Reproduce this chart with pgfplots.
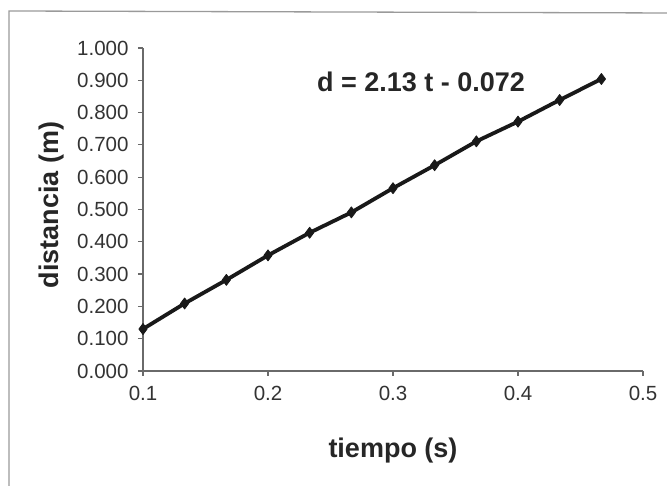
\documentclass[border=0pt]{standalone}
\usepackage{fontspec}
\setmainfont{Liberation Sans}
\usepackage{pgfplots}
\pgfplotsset{compat=1.18}
\definecolor{framegray}{HTML}{9A9A9A}
\definecolor{axgray}{HTML}{6A6A6A}
\definecolor{txtgray}{HTML}{333333}
\begin{document}
\begin{tikzpicture}
\useasboundingbox (0,0) rectangle (667pt,486pt);
% chart frame (runs off the right and bottom of the picture)
\draw[framegray, line width=1.3pt] (9pt,-5pt) -- (9pt,475pt) -- (672pt,473pt);
\begin{axis}[
    at={(143pt,115pt)}, anchor=south west,
    scale only axis,
    width=500pt, height=323pt,
    xmin=0.1, xmax=0.5,
    ymin=0, ymax=1,
    xtick={0.1,0.2,0.3,0.4,0.5},
    ytick={0,0.1,...,1.0},
    axis x line*=bottom,
    axis y line*=left,
    axis line style={axgray, line width=1.2pt},
    tick style={axgray, line width=1.2pt},
    tick align=outside,
    major tick length=5pt,
    /pgf/number format/assume math mode=true,
    ticklabel style={font=\fontsize{20.5}{24}\selectfont, text=txtgray},
    yticklabel style={xshift=-6pt, /pgf/number format/.cd, fixed, fixed zerofill, precision=3},
    xticklabel style={yshift=-7pt, /pgf/number format/.cd, fixed, fixed zerofill, precision=1},
    label style={font=\bfseries\fontsize{27}{32}\selectfont, text=black!85},
    xlabel={tiempo (s)},
    ylabel={distancia (m)},
    xlabel style={at={(axis description cs:0.5,-0.245)}, anchor=center},
    ylabel style={at={(axis description cs:-0.182,0.514)}, anchor=center},
    clip=false,
]
% measured points
\addplot[black!90, line width=3.8pt, line join=round, mark=diamond*, mark size=5.5pt,
    mark options={solid, fill=black!90, line width=0.8pt}] coordinates {
    (0.1000, 0.130)
    (0.1333, 0.209)
    (0.1667, 0.282)
    (0.2000, 0.358)
    (0.2333, 0.428)
    (0.2667, 0.491)
    (0.3000, 0.566)
    (0.3333, 0.637)
    (0.3667, 0.711)
    (0.4000, 0.772)
    (0.4333, 0.839)
    (0.4667, 0.904)
};
\node[font=\bfseries\fontsize{27}{32}\selectfont, text=black!85]
    at (axis cs:0.3224,0.895) {d = 2.13 t - 0.072};
\end{axis}
\end{tikzpicture}
\end{document}
